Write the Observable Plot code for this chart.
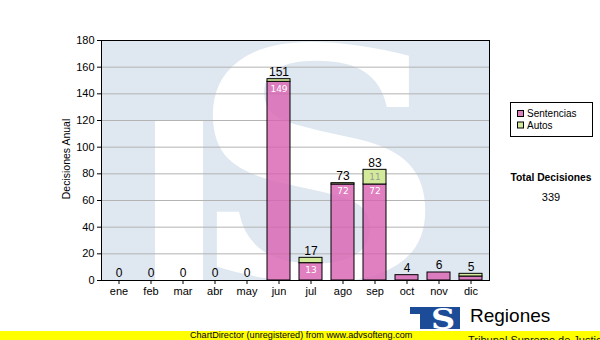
<!DOCTYPE html>
<html>
<head>
<meta charset="utf-8">
<script src="https://cdn.jsdelivr.net/npm/d3@7"></script>
<script src="https://cdn.jsdelivr.net/npm/@observablehq/plot@0.6"></script>
<style>
  html, body { margin: 0; padding: 0; background: #fff; color: #000; }
  #chart svg { display: block; }
</style>
</head>
<body>
<div id="chart"></div>
<script>
const meses = ["ene","feb","mar","abr","may","jun","jul","ago","sep","oct","nov","dic"];
const sentencias = [0,0,0,0,0,149,13,72,72,4,6,3];
const autos      = [0,0,0,0,0,2,4,1,11,0,0,2];
const series = ["Sentencias","Autos"];
const yTicks = [0,20,40,60,80,100,120,140,160,180];
const totalDecisiones = 339;

const rows = meses.flatMap((m, i) => [
  {mes: m, serie: "Sentencias", valor: sentencias[i]},
  {mes: m, serie: "Autos", valor: autos[i]}
]).filter(d => d.valor > 0);
const totals = meses.map((m, i) => ({mes: m, total: sentencias[i] + autos[i]}));
const sentLabels = meses.map((m, i) => ({mes: m, v: sentencias[i]})).filter(d => d.v >= 10);
const autoLabels = meses.map((m, i) => ({mes: m, v: autos[i], top: sentencias[i] + autos[i]})).filter(d => d.v >= 10);

const chart = Plot.plot({
  width: 600,
  height: 340,
  marginLeft: 101,
  marginRight: 111,
  marginTop: 40,
  marginBottom: 60,
  style: {fontFamily: "'Liberation Sans', Arial, sans-serif", fontSize: "11px", background: "transparent", color: "#000"},
  x: {domain: meses, paddingInner: 0.28, paddingOuter: 0.14, label: null, tickSize: 4, tickPadding: 3},
  y: {domain: [0, 180], ticks: yTicks, tickSize: 4, tickPadding: 3, label: null},
  color: {domain: series, range: ["rgba(216,96,176,0.8)", "#d2ea9a"]},
  marks: [
    Plot.ruleY(yTicks.slice(1), {stroke: "#b4b4b4", strokeWidth: 1}),
    Plot.barY(rows, {x: "mes", y: "valor", fill: "serie", stroke: "#000", strokeWidth: 1}),
    Plot.text(totals, {x: "mes", y: "total", text: d => String(d.total), dy: -7, fontSize: 12, fill: "#000"}),
    Plot.text(sentLabels, {x: "mes", y: "v", text: d => String(d.v), dy: 7, fontSize: 9, fill: "#fff", fontFamily: "'DejaVu Sans', sans-serif"}),
    Plot.text(autoLabels, {x: "mes", y: "top", text: d => String(d.v), dy: 7, fontSize: 9, fill: "#9a9a9a", fontFamily: "'DejaVu Sans', sans-serif"}),
    Plot.frame({stroke: "#000", strokeWidth: 1})
  ]
});
document.getElementById("chart").appendChild(chart);

const svg = d3.select(chart);
// watermark behind everything
const wm = svg.insert("g", ":first-child");
const defs = svg.insert("defs", ":first-child");
defs.append("clipPath").attr("id", "plotclip")
  .append("rect").attr("x", 101).attr("y", 40).attr("width", 389).attr("height", 240);
defs.append("clipPath").attr("id", "logoclip")
  .append("rect").attr("x", 410).attr("y", 307).attr("width", 50).attr("height", 22);
wm.attr("clip-path", "url(#plotclip)");
wm.append("rect").attr("x", 101).attr("y", 40).attr("width", 389).attr("height", 240).attr("fill", "#dfe8f1");
wm.append("rect").attr("x", 155).attr("y", 120).attr("width", 48).attr("height", 160).attr("fill", "#fff");
wm.append("text").text("S")
  .attr("transform", "translate(318,278) scale(1.12,1)")
  .attr("text-anchor", "middle")
  .attr("font-family", "'DejaVu Serif', serif")
  .attr("font-weight", "bold")
  .attr("font-size", 318)
  .attr("fill", "#fff");

// y axis title
svg.append("text").text("Decisiones Anual")
  .attr("transform", "translate(70,159) rotate(-90)")
  .attr("text-anchor", "middle")
  .attr("font-family", "'Liberation Sans', Arial, sans-serif")
  .attr("font-size", 10.5)
  .attr("fill", "#000");

// legend
const lg = svg.append("g").attr("font-family", "'Liberation Sans', Arial, sans-serif").attr("font-size", 10).attr("text-anchor", "start");
lg.append("rect").attr("x", 510.5).attr("y", 102.5).attr("width", 82).attr("height", 34).attr("fill", "#fff").attr("stroke", "#000");
const colors = ["#dd80c0", "#d2ea9a"];
series.forEach((s, i) => {
  lg.append("rect").attr("x", 517.5).attr("y", 110.5 + i * 11.5).attr("width", 6).attr("height", 6)
    .attr("fill", colors[i]).attr("stroke", "#000");
  lg.append("text").text(s).attr("x", 527).attr("y", 117 + i * 11.5).attr("text-anchor", "start").attr("fill", "#000");
});

// total
svg.append("text").text("Total Decisiones")
  .attr("x", 551).attr("y", 181).attr("text-anchor", "middle")
  .attr("font-family", "'Liberation Sans', Arial, sans-serif").attr("font-weight", "bold").attr("font-size", 10.3).attr("fill", "#000");
svg.append("text").text(String(totalDecisiones))
  .attr("x", 551).attr("y", 200.5).attr("text-anchor", "middle")
  .attr("font-family", "'Liberation Sans', Arial, sans-serif").attr("font-size", 11).attr("fill", "#000");

// footer
svg.append("rect").attr("x", 0).attr("y", 331).attr("width", 600).attr("height", 9).attr("fill", "#ffff00");
svg.append("text").text("ChartDirector (unregistered) from www.advsofteng.com")
  .attr("x", 190).attr("y", 338).attr("text-anchor", "start")
  .attr("font-family", "'Liberation Sans', Arial, sans-serif").attr("font-size", 9.1).attr("fill", "#000");

// logo
const logo = svg.append("g").attr("text-anchor", "start");
const mark = logo.append("g").attr("clip-path", "url(#logoclip)");
mark.append("rect").attr("x", 410).attr("y", 307).attr("width", 50).attr("height", 22).attr("fill", "#1c4c98");
mark.append("rect").attr("x", 410).attr("y", 314).attr("width", 10).attr("height", 16).attr("fill", "#fff");
mark.append("text").text("S")
  .attr("transform", "translate(443,329) scale(1.2,1)")
  .attr("text-anchor", "middle")
  .attr("font-family", "'DejaVu Serif', serif").attr("font-weight", "bold").attr("font-size", 28).attr("fill", "#fff");
logo.append("text").text("Regiones")
  .attr("x", 470).attr("y", 322).attr("text-anchor", "start")
  .attr("font-family", "'Liberation Sans', Arial, sans-serif").attr("font-size", 19).attr("fill", "#000");
logo.append("text").text("Tribunal Supremo de Justicia")
  .attr("x", 468).attr("y", 344).attr("text-anchor", "start")
  .attr("font-family", "'Liberation Sans', Arial, sans-serif").attr("font-size", 11).attr("fill", "#111");
</script>
</body>
</html>
